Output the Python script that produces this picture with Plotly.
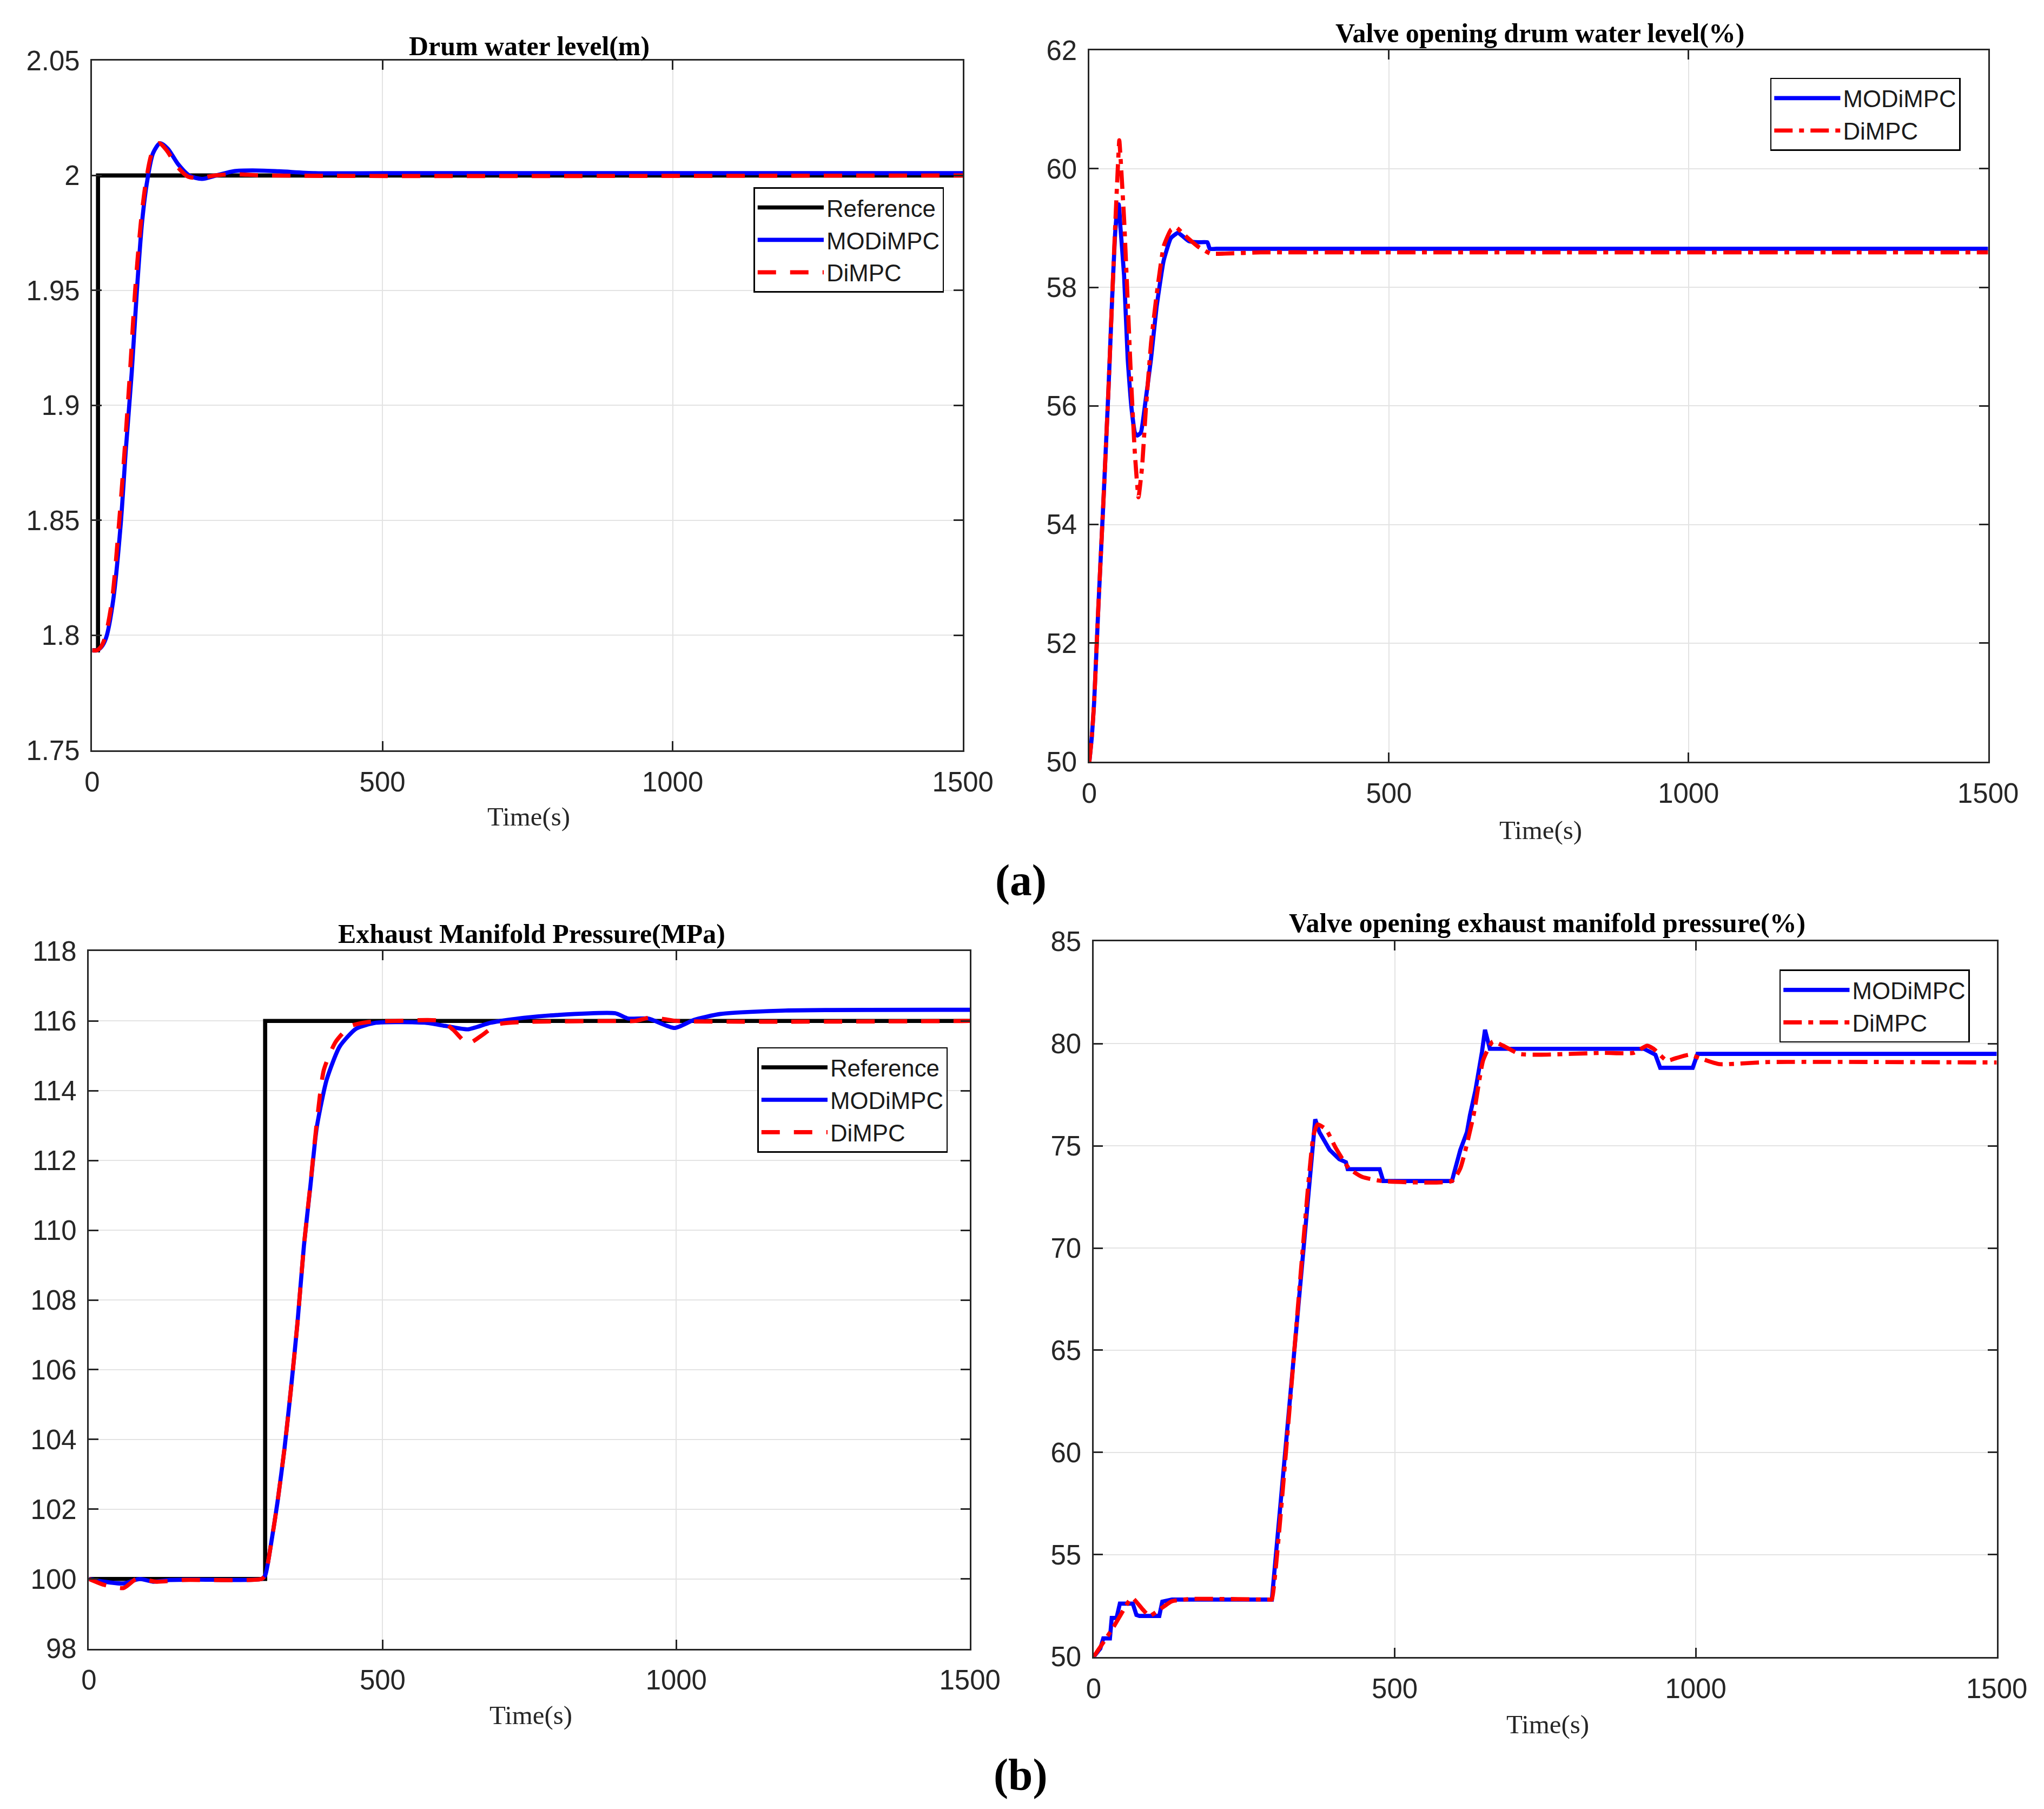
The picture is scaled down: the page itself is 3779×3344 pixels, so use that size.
import plotly.graph_objects as go

W, H = 3779, 3344

# ---------------- data ----------------
# (a) left: Drum water level (m)
t_ref_a = [0, 10, 10, 1500]
y_ref_a = [1.7935, 1.7935, 2.0, 2.0]
t_mod_a = [0, 8, 16, 24, 36, 49, 58, 68, 77, 86, 95, 105, 117, 130, 148, 167, 189, 214, 245, 276, 322, 384, 500, 1500]
y_mod_a = [1.7935, 1.7935, 1.795, 1.799, 1.815, 1.848, 1.881, 1.914, 1.950, 1.980, 1.998, 2.0098, 2.014, 2.0117,
           2.0049, 2.0, 1.9985, 2.0, 2.0019, 2.0022, 2.0018, 2.001, 2.001, 2.001]
t_di_a = [0, 8, 15, 22, 34, 46, 56, 65, 74, 84, 93, 103, 115, 128, 146, 165, 187, 212, 245, 300, 1500]
y_di_a = [1.7935, 1.7935, 1.795, 1.799, 1.815, 1.848, 1.881, 1.914, 1.950, 1.980, 1.998, 2.0098, 2.014, 2.011,
          2.004, 1.9995, 1.999, 2.0, 2.0005, 2.0, 2.0]

# (a) right: Valve opening drum water level (%)
t_mod_av = [0, 4, 8, 15, 24, 32, 38, 43, 47, 49, 52, 58, 64, 70, 76, 80, 86, 94, 103, 112, 124, 136, 148,
            166, 182, 197, 201, 212, 300, 1000, 1500]
y_mod_av = [50, 50.4, 51.0, 52.6, 54.5, 56.3, 57.8, 58.9, 59.35, 59.4, 59.0, 58.2, 56.8, 56.0, 55.55, 55.5,
            55.55, 56.1, 56.8, 57.65, 58.45, 58.83, 58.92, 58.78, 58.76, 58.76, 58.65, 58.65, 58.65, 58.65, 58.65]
t_di_av = [0, 4, 8, 15, 24, 32, 38, 43, 47, 50, 52, 58, 64, 70, 76, 82, 88, 94, 103, 112, 124, 136, 145,
           160, 181, 202, 226, 286, 400, 1000, 1500]
y_di_av = [50, 50.4, 51.0, 52.6, 54.5, 56.3, 57.8, 59.0, 59.9, 60.48, 60.2, 59.15, 57.76, 56.36, 55.2, 54.46,
           54.97, 55.9, 57.06, 57.85, 58.69, 58.97, 59.01, 58.87, 58.69, 58.57, 58.57, 58.59, 58.59, 58.59, 58.59]

# (b) left: Exhaust Manifold Pressure (MPa)
t_ref_b = [0, 300, 300, 1500]
y_ref_b = [100, 100, 116, 116]
t_mod_b = [0, 26, 59, 87, 109, 137, 182, 294, 300, 310, 321, 333, 344, 355, 366, 377, 388, 405, 427, 455,
           489, 572, 606, 645, 684, 740, 796, 896, 918, 952, 997, 1030, 1075, 1186, 1500]
y_mod_b = [100.0, 99.92, 99.87, 100.0, 99.92, 99.97, 99.98, 100.0, 100.1, 101.0, 102.2, 103.75, 105.46,
           107.34, 109.55, 111.26, 112.96, 114.33, 115.27, 115.78, 115.95, 115.95, 115.86, 115.76, 115.95,
           116.09, 116.17, 116.22, 116.07, 116.07, 115.8, 116.03, 116.2, 116.3, 116.32]
t_di_b = [0, 26, 59, 81, 115, 160, 294, 300, 310, 321, 333, 344, 355, 366, 377, 388, 400, 420, 445, 475,
          520, 600, 620, 645, 670, 695, 740, 900, 930, 955, 980, 1000, 1500]
y_di_b = [100.0, 99.83, 99.74, 100.0, 99.92, 99.97, 100.0, 100.1, 101.0, 102.2, 103.75, 105.46, 107.34,
          109.55, 111.3, 113.1, 114.6, 115.4, 115.85, 115.97, 116.0, 116.0, 115.75, 115.35, 115.6, 115.9,
          115.97, 116.0, 116.0, 116.1, 116.05, 116.0, 116.0]

# (b) right: Valve opening exhaust manifold pressure (%)
t_mod_bv = [0, 11, 16, 27, 30, 38, 43.5, 65, 71, 76, 109, 114, 130, 294, 296, 368, 375, 392, 408, 419, 422,
            475, 481, 595, 600, 609, 620, 625, 634, 642, 645, 650, 655, 658, 914, 933, 941, 995, 1003, 1500]
y_mod_bv = [50, 50.4, 50.9, 50.9, 51.9, 51.9, 52.6, 52.6, 52.05, 52.0, 52.0, 52.7, 52.8, 52.8, 52.8, 76.3,
            75.67, 74.8, 74.35, 74.2, 73.86, 73.86, 73.28, 73.28, 73.9, 74.8, 75.67, 76.5, 77.7, 78.9, 79.6,
            80.68, 80.04, 79.75, 79.75, 79.46, 78.82, 78.82, 79.5, 79.5]
t_di_bv = [0, 33, 60, 65, 82, 92.5, 109, 130, 163, 294, 296, 365, 372, 386, 402, 424, 446, 479, 595, 609,
           631, 647, 663, 680, 707, 740, 848, 897, 919, 930, 952, 968, 990, 1006, 1039, 1120, 1500]
y_di_bv = [50, 51.46, 52.78, 52.86, 52.3, 52.0, 52.3, 52.72, 52.83, 52.8, 52.8, 75.5, 76.05, 75.8, 74.9,
           73.9, 73.48, 73.28, 73.28, 73.9, 76.5, 79.2, 80.1, 79.9, 79.5, 79.46, 79.55, 79.55, 79.9, 79.75,
           79.17, 79.3, 79.46, 79.3, 79.0, 79.1, 79.08]

x_ticks = [0, 500, 1000, 1500]
yt_a = [1.75, 1.8, 1.85, 1.9, 1.95, 2.0, 2.05]
yt_a_txt = ["1.75", "1.8", "1.85", "1.9", "1.95", "2", "2.05"]
yt_av = [50, 52, 54, 56, 58, 60, 62]
yt_b = [98, 100, 102, 104, 106, 108, 110, 112, 114, 116, 118]
yt_bv = [50, 55, 60, 65, 70, 75, 80, 85]

titles = ["Drum water level(m)", "Valve opening drum water level(%)",
          "Exhaust Manifold Pressure(MPa)", "Valve opening exhaust manifold pressure(%)"]

# ---------------- layout helpers ----------------
# compensation for the page-to-photo mapping observed in the renderer
S = 0.982
OX, OY = 22.4, 38.3


def fx(px):
    return ((px - OX) / S) / W


def fy(py):
    return 1 - ((py - OY) / S) / H


def fs(v):
    return v / S


# axes boxes in target pixels: (left, right, top, bottom)
boxes = [(171, 1782, 114, 1388), (2016, 3679, 95, 1409), (165, 1795, 1759, 3047), (2024, 3695, 1741, 3062)]

BLUE = "#0000ff"
RED = "#ff0000"
BLACK = "#000000"
LW = fs(7.5)
DASH = "34px,26px"
DASHDOT = "34px,12px,9px,12px"

fig = go.Figure()


def add(t, y, name, color, dash, k, leg, shape="linear", smooth=None):
    line = dict(color=color, width=LW, dash=dash, shape=shape)
    if smooth is not None:
        line["smoothing"] = smooth
    fig.add_trace(go.Scatter(x=t, y=y, mode="lines", name=name, line=line,
                             xaxis="x" if k == 1 else f"x{k}", yaxis="y" if k == 1 else f"y{k}",
                             legend=leg))


add(t_ref_a, y_ref_a, "Reference", BLACK, "solid", 1, "legend")
add(t_mod_a, y_mod_a, "MODiMPC", BLUE, "solid", 1, "legend", "spline", 0.8)
add(t_di_a, y_di_a, "DiMPC", RED, DASH, 1, "legend", "spline", 0.8)

add(t_mod_av, y_mod_av, "MODiMPC", BLUE, "solid", 2, "legend2", "spline", 0.4)
add(t_di_av, y_di_av, "DiMPC", RED, DASHDOT, 2, "legend2", "spline", 0.4)

add(t_ref_b, y_ref_b, "Reference", BLACK, "solid", 3, "legend3")
add(t_mod_b, y_mod_b, "MODiMPC", BLUE, "solid", 3, "legend3", "spline", 0.6)
add(t_di_b, y_di_b, "DiMPC", RED, DASH, 3, "legend3", "spline", 0.6)

add(t_mod_bv, y_mod_bv, "MODiMPC", BLUE, "solid", 4, "legend4")
add(t_di_bv, y_di_bv, "DiMPC", RED, DASHDOT, 4, "legend4", "spline", 0.5)

axis_common = dict(showline=True, linecolor="#262626", linewidth=fs(2.5), mirror="ticks",
                   ticks="inside", ticklen=fs(17), tickwidth=fs(2.5), tickcolor="#262626",
                   showgrid=True, gridcolor="#e3e3e3", gridwidth=fs(2), zeroline=False,
                   tickfont=dict(family="Liberation Sans, Arial", size=fs(50), color="#262626"))

yranges = [(1.75, 2.05), (50, 62), (98, 118), (50, 85)]
yticks = [(yt_a, yt_a_txt), (yt_av, [str(v) for v in yt_av]), (yt_b, [str(v) for v in yt_b]),
          (yt_bv, [str(v) for v in yt_bv])]

layout = dict(width=W, height=H, margin=dict(l=0, r=0, t=0, b=0),
              paper_bgcolor="white", plot_bgcolor="white", showlegend=True)

for i, (l, r, t, b) in enumerate(boxes):
    k = i + 1
    xa = "xaxis" if k == 1 else f"xaxis{k}"
    ya = "yaxis" if k == 1 else f"yaxis{k}"
    layout[xa] = dict(axis_common, domain=[fx(l), fx(r)], range=[0, 1500],
                      tickvals=x_ticks, ticktext=[str(v) for v in x_ticks],
                      ticklabelstandoff=int(round(fs(12))),
                      anchor="y" if k == 1 else f"y{k}")
    layout[ya] = dict(axis_common, domain=[fy(b), fy(t)], range=list(yranges[i]),
                      tickvals=yticks[i][0], ticktext=yticks[i][1],
                      ticklabelstandoff=int(round(fs(10))),
                      anchor="x" if k == 1 else f"x{k}")

leg_common = dict(xanchor="right", yanchor="top", bgcolor="white", bordercolor="#000000",
                  borderwidth=fs(2.5), font=dict(family="Liberation Sans, Arial", size=fs(43), color="#1a1a1a"),
                  itemwidth=fs(120), tracegroupgap=0)
leg_pos = [(1747, 348), (3628, 146), (1754, 1936), (3645, 1793)]
for i, (px, py) in enumerate(leg_pos):
    key = "legend" if i == 0 else f"legend{i + 1}"
    layout[key] = dict(leg_common, x=fx(px), y=fy(py))

fig.update_layout(**layout)

title_pos = [(980, 88), (2850, 64), (984, 1727), (2863, 1707)]
for txt, (px, py) in zip(titles, title_pos):
    fig.add_annotation(text="<b>" + txt + "</b>", x=fx(px), y=fy(py), xref="paper", yref="paper",
                       showarrow=False, xanchor="center", yanchor="middle",
                       font=dict(family="Liberation Serif, Times New Roman", size=fs(49), color="#000000"))

xlab_pos = [(979, 1510), (2851, 1535), (983, 3170), (2864, 3187)]
for (px, py) in xlab_pos:
    fig.add_annotation(text="Time(s)", x=fx(px), y=fy(py), xref="paper", yref="paper", showarrow=False,
                       xanchor="center", yanchor="middle",
                       font=dict(family="Liberation Serif, Times New Roman", size=fs(48), color="#262626"))

for txt, py in [("(a)", 1628), ("(b)", 3280)]:
    fig.add_annotation(text="<b>" + txt + "</b>", x=fx(1889), y=fy(py), xref="paper", yref="paper",
                       showarrow=False, xanchor="center", yanchor="middle",
                       font=dict(family="Liberation Serif, Times New Roman", size=fs(80), color="#000000"))

fig.write_html("out.html")
